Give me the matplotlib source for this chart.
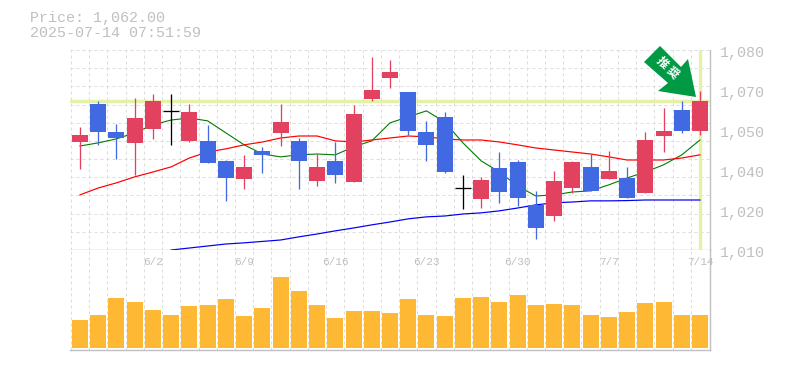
import matplotlib
matplotlib.use("Agg")
import matplotlib.pyplot as plt
from matplotlib.patches import Polygon
import numpy as np

W, H = 785, 370

# precios
opens = [1047.8, 1061.1, 1051.3, 1047.5, 1052.4, 1058.5, 1048.2, 1048.2, 1041.2, 1034.9, 1044.7, 1051.0,
         1048.2, 1034.2, 1041.2, 1033.8, 1062.9, 1070.2, 1065.3, 1051.3, 1056.6, 1031.7, 1027.9, 1038.7,
         1040.8, 1025.8, 1021.9, 1031.7, 1039.1, 1034.9, 1035.2, 1030.0, 1049.9, 1059.0, 1051.7]
closes = [1050.3, 1051.3, 1049.2, 1056.2, 1062.2, 1058.5, 1058.3, 1040.5, 1035.2, 1039.1, 1043.3, 1054.8,
          1041.2, 1039.1, 1036.3, 1057.6, 1066.0, 1072.3, 1051.7, 1046.8, 1037.3, 1031.7, 1034.5, 1030.3,
          1028.2, 1017.7, 1034.2, 1040.8, 1030.7, 1037.7, 1028.2, 1048.5, 1051.7, 1051.7, 1062.2]
highs = [1053.1, 1062.2, 1054.1, 1063.2, 1064.6, 1064.6, 1061.1, 1053.8, 1041.5, 1043.3, 1046.1, 1061.1,
         1049.2, 1043.6, 1047.8, 1060.8, 1077.6, 1076.5, 1065.3, 1055.2, 1058.3, 1036.3, 1035.6, 1044.3,
         1041.5, 1030.7, 1037.7, 1041.2, 1043.6, 1044.7, 1039.1, 1051.3, 1059.7, 1062.2, 1065.7]
lows = [1038.4, 1046.8, 1041.9, 1036.3, 1048.9, 1046.8, 1047.8, 1040.5, 1027.2, 1031.4, 1037.0, 1046.4,
        1031.4, 1032.4, 1033.5, 1033.8, 1062.2, 1066.7, 1050.3, 1041.2, 1037.0, 1024.4, 1024.7, 1026.5,
        1025.4, 1013.9, 1020.2, 1030.0, 1030.7, 1034.9, 1028.2, 1030.0, 1044.3, 1051.0, 1050.3]

ma_verde = [1046.4, 1047.5, 1048.9, 1051.0, 1053.8, 1055.5, 1056.2, 1055.2, 1051.0, 1046.8, 1043.6, 1042.6,
            1043.3, 1043.6, 1043.3, 1046.1, 1048.2, 1054.5, 1056.6, 1058.7, 1054.8, 1047.5, 1041.2, 1037.3,
            1032.4, 1028.9, 1029.3, 1030.3, 1030.7, 1032.8, 1035.2, 1037.3, 1039.8, 1043.3, 1048.5]
ma_roja = [1029.3, 1031.7, 1033.5, 1035.6, 1037.3, 1039.1, 1042.2, 1044.3, 1045.4, 1046.8, 1047.8, 1049.2,
           1049.9, 1049.9, 1048.2, 1047.8, 1048.5, 1049.2, 1049.9, 1049.6, 1048.9, 1048.5, 1048.5, 1047.8,
           1046.8, 1045.7, 1045.0, 1044.3, 1043.6, 1042.6, 1041.5, 1041.5, 1041.5, 1042.2, 1043.3]
# la media azul empieza en la vela 5
ma_azul = [1010.0, 1010.7, 1011.4, 1012.1, 1012.5, 1013.0, 1013.5,
           1014.6, 1015.6, 1016.7, 1017.7, 1018.8, 1019.8, 1020.9, 1021.6, 1021.9, 1022.6, 1023.0, 1023.7,
           1024.7, 1025.8, 1026.5, 1026.8, 1027.2, 1027.2, 1027.3, 1027.5, 1027.5, 1027.5, 1027.5]

volumen = [28, 33, 50, 46, 38, 33, 42, 43, 49, 32, 40, 71, 57, 43, 30, 37, 37, 35,
           49, 33, 32, 50, 51, 46, 53, 43, 44, 43, 33, 31, 36, 45, 46, 33, 33]

precio_actual = 1062.0
y_ticks = [1010, 1024, 1038, 1052, 1066, 1080]
y_labels = ["1,010", "1,020", "1,040", "1,050", "1,070", "1,080"]
fechas_pos = [4, 9, 14, 19, 24, 29, 34]
fechas = ["6/2", "6/9", "6/16", "6/23", "6/30", "7/7", "7/14"]

ROJO = "#E2415F"
AZUL = "#4169E1"
GRIS = "#C0C0C0"
GRID = "#DCDCDC"
FUENTE = "Liberation Mono"
PX = 0.72  # 1 pixel en puntos a 100 dpi

fig = plt.figure(figsize=(W / 100, H / 100), dpi=100)
ax = fig.add_axes([70 / W, 1 - 250 / H, 640 / W, 200 / H])
ax2 = fig.add_axes([70 / W, 1 - 350 / H, 640 / W, 100 / H])

n = len(closes)
x = np.arange(n)
paso = 620 / 34
xlim = (-10 / paso, (710 - 80) / paso)
dash = (0, (3, 3))

for a in (ax, ax2):
    a.set_xlim(*xlim)
    a.set_xticks([])
    a.set_yticks([])
    for s in ("left", "top"):
        a.spines[s].set_visible(False)
    for s in ("right", "bottom"):
        a.spines[s].set_color(GRIS)
        a.spines[s].set_linewidth(1.4 * PX)
    for i in range(n):
        a.axvline(i - 0.5, color=GRID, lw=PX, ls=dash, zorder=1)

ax.set_ylim(1010, 1080)
ax2.set_ylim(-2, 98)
for g in np.linspace(1010, 1080, 12)[1:]:
    ax.axhline(g, color=GRID, lw=PX, ls=dash, zorder=1)

# lineas de precio actual
ax.axhline(precio_actual, color="#E4F2A8", lw=3.4 * PX, zorder=2)
ax.plot([34, 34], [1010.5, 1080], color="#E4F2A8", lw=3.4 * PX, zorder=2, solid_capstyle="butt")

# medias moviles
ax.plot(x, ma_verde, color="#007A00", lw=1.1 * PX, zorder=3)
ax.plot(x, ma_roja, color="#FF0000", lw=1.2 * PX, zorder=3)
ax.plot(x[5:], ma_azul, color="#0000F0", lw=1.2 * PX, zorder=3)

# velas
for i in range(n):
    if closes[i] > opens[i]:
        c = ROJO
    elif closes[i] < opens[i]:
        c = AZUL
    else:
        c = "black"
    ax.plot([i, i], [lows[i], highs[i]], color=c, lw=1.3 * PX, zorder=4, solid_capstyle="butt")
    if c == "black":
        ax.plot([i - 8 / paso, i + 8 / paso], [opens[i], opens[i]], color=c, lw=1.3 * PX, zorder=4,
                solid_capstyle="butt")
    else:
        ax.bar(i, abs(closes[i] - opens[i]), bottom=min(opens[i], closes[i]), width=16 / paso,
               color=c, zorder=4)

ax2.bar(x, volumen, width=16 / paso, color="#FFB833", zorder=3)

# textos
fig.text(30 / W, 1 - 18 / H, "Price: 1,062.00", color=GRIS, family=FUENTE, fontsize=10.8, va="center")
fig.text(30 / W, 1 - 33 / H, "2025-07-14 07:51:59", color=GRIS, family=FUENTE, fontsize=10.8, va="center")
for t, lab in zip(y_ticks, y_labels):
    yp = 1 - (250 - (t - 1010) / 70 * 200 + 3) / H
    fig.text(720 / W, yp, lab, color=GRIS, family=FUENTE, fontsize=10.8, va="center")
for p, lab in zip(fechas_pos, fechas):
    ax2.text(p, 86, lab, color=GRIS, family=FUENTE, fontsize=8, ha="center", va="center", zorder=5)

# flecha verde
flecha = [(660, 46), (644, 62), (668, 83), (658, 91), (696, 97), (688, 59), (681, 67)]
fig.add_artist(Polygon([(px / W, 1 - py / H) for px, py in flecha], closed=True,
                       transform=fig.transFigure, color="#009944", lw=0, zorder=6))
fig.text(662 / W, 1 - 63 / H, "推", color="white", family="Noto Sans CJK JP", fontsize=8.5, weight="bold",
         rotation=-45, ha="center", va="center", zorder=7)
fig.text(672 / W, 1 - 73 / H, "奨", color="white", family="Noto Sans CJK JP", fontsize=8.5, weight="bold",
         rotation=-45, ha="center", va="center", zorder=7)

fig.savefig("out.png", dpi=100)
